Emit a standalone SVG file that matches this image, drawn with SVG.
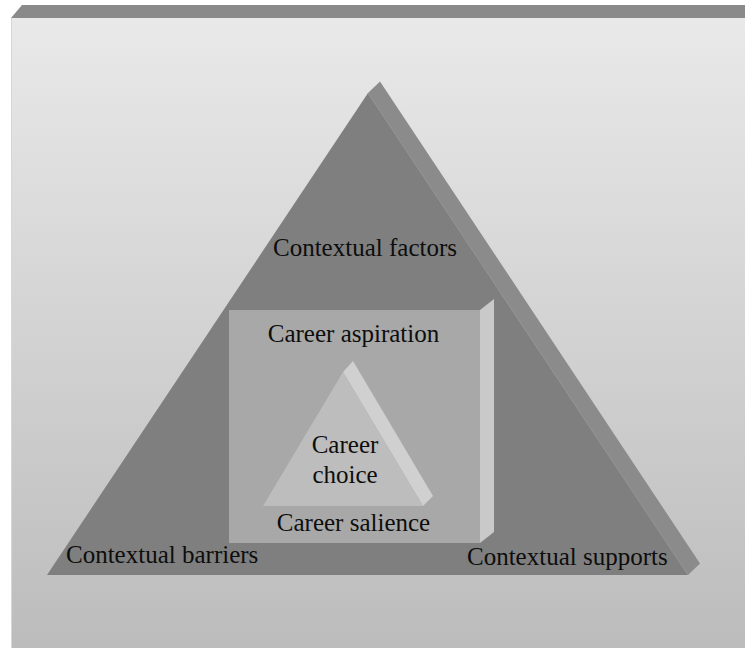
<svg xmlns="http://www.w3.org/2000/svg" width="745" height="648" viewBox="0 0 745 648">
  <defs>
    <linearGradient id="bg" x1="0" y1="0" x2="0" y2="1">
      <stop offset="0" stop-color="#e9e9e9"/>
      <stop offset="1" stop-color="#bcbcbc"/>
    </linearGradient>
  </defs>
  <style>
    text { font-family: 'Liberation Serif', serif; font-size: 25px; fill: #0d0d0d; }
  </style>
  <rect x="0" y="0" width="745" height="648" fill="#ffffff"/>
  <g id="background">
    <polygon points="11,18 22,5 745,5 745,18" fill="#8a8a8a"/>
    <rect x="11" y="18" width="734" height="630" fill="url(#bg)"/>
    <line x1="11.5" y1="18" x2="11.5" y2="648" stroke="#d6d6d6" stroke-width="1"/>
  </g>
  <g id="contextual-triangle">
    <polygon points="368,93 380,81.5 700,563.5 688,575" fill="#8b8b8b"/>
    <polygon points="368,93 688,575 47,575" fill="#7f7f7f"/>
    <line x1="368" y1="93" x2="688" y2="575" stroke="#929292" stroke-width="1"/>
    <text font-family="Liberation Serif, serif" x="365" y="256" text-anchor="middle">Contextual factors</text>
    <text font-family="Liberation Serif, serif" x="66" y="563">Contextual barriers</text>
    <text font-family="Liberation Serif, serif" x="467" y="565">Contextual supports</text>
  </g>
  <g id="career-aspiration">
    <polygon points="480,310 494,299 494,532 480,543" fill="#c9c9c9"/>
    <rect x="229" y="310" width="251" height="233" fill="#a8a8a8"/>
    <text font-family="Liberation Serif, serif" x="353.5" y="342" text-anchor="middle">Career aspiration</text>
    <text font-family="Liberation Serif, serif" x="353.5" y="531" text-anchor="middle">Career salience</text>
  </g>
  <g id="career-choice">
    <polygon points="343,372 353,361 433,496 423,506" fill="#d0d0d0"/>
    <polygon points="343,372 423,506 263,506" fill="#bdbdbd"/>
    <text font-family="Liberation Serif, serif" x="345" y="453" text-anchor="middle">Career</text>
    <text font-family="Liberation Serif, serif" x="345" y="483" text-anchor="middle">choice</text>
  </g>
  <g id="connectors"></g>
</svg>
